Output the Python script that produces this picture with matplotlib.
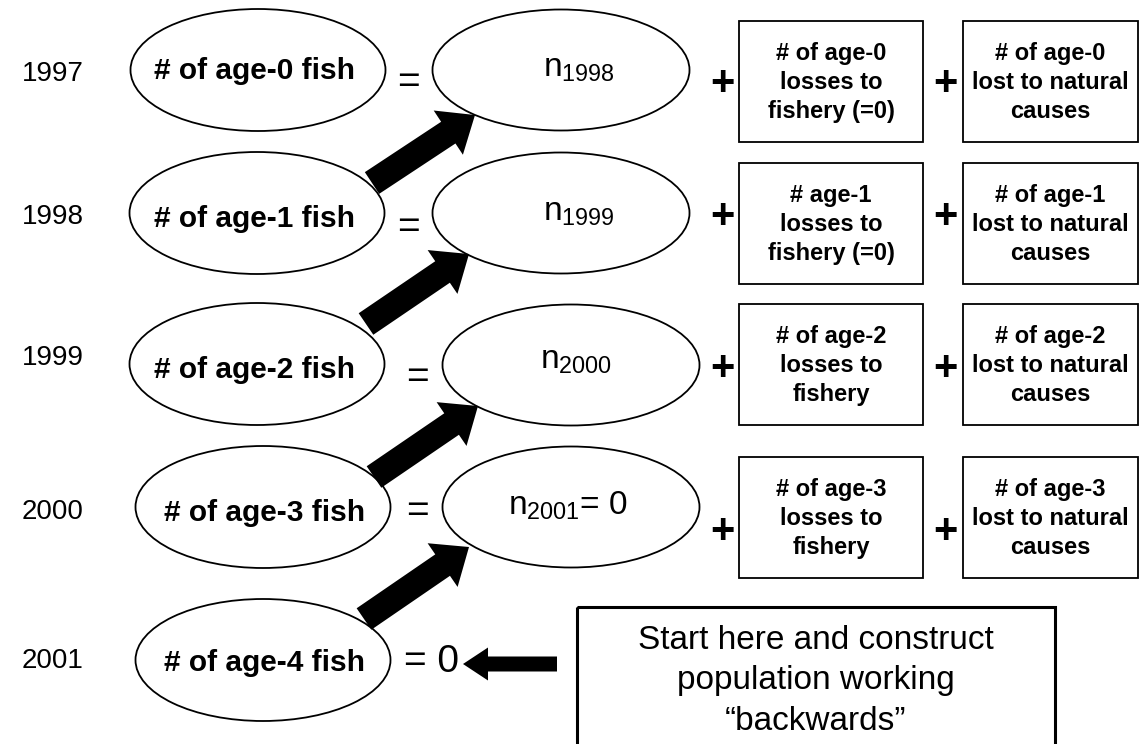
import matplotlib
matplotlib.use("Agg")
import matplotlib.pyplot as plt
from matplotlib.patches import Ellipse, Rectangle, FancyArrow

plt.rcParams['font.family'] = ['Liberation Sans', 'DejaVu Sans']
plt.rcParams['mathtext.fontset'] = 'custom'
plt.rcParams['mathtext.rm'] = 'Liberation Sans'

# ---- content ----
years = ['1997', '1998', '1999', '2000', '2001']
left_labels = ['# of age-0 fish', '# of age-1 fish', '# of age-2 fish',
               '# of age-3 fish', '# of age-4 fish']
mid_labels = [r'$\mathregular{n_{1998}}$', r'$\mathregular{n_{1999}}$',
              r'$\mathregular{n_{2000}}$', r'$\mathregular{n_{2001}}$= 0']
fishery_labels = ['# of age-0\nlosses to\nfishery (=0)',
                  '# age-1\nlosses to\nfishery (=0)',
                  '# of age-2\nlosses to\nfishery',
                  '# of age-3\nlosses to\nfishery']
natural_labels = ['# of age-0\nlost to natural\ncauses',
                  '# of age-1\nlost to natural\ncauses',
                  '# of age-2\nlost to natural\ncauses',
                  '# of age-3\nlost to natural\ncauses']
last_value = '= 0'
note_text = 'Start here and construct\npopulation working\n\u201cbackwards\u201d'

# ---- layout (pixel units) ----
W, H = 1141, 744
year_x = 22
year_y = [74, 217, 358, 512, 661]
left_cx = [258, 257, 257, 263, 263]
left_cy = [70, 213, 364, 507, 660]
left_text_x = [254, 255, 255, 265, 265]
left_text_y = [71, 219, 370, 513, 663]
ell_w, ell_h = 255, 122
mid_cx = [561, 561, 571, 571]
mid_cy = [70, 213, 365, 507]
mid_w, mid_h = 257, 121
mid_text_x = [543, 543, 540, 508]
mid_text_y = [68, 212, 360, 506]
eq_x = [408, 408, 417, 417]
eq_y = [83, 228, 378, 512]
box1_x0, box1_w = 739, 184
box2_x0, box2_w = 963, 175
box_y0 = [21, 163, 304, 457]
box_h = 121
plus_x = [722, 945]
plus_y = [84, 217, 369, 532]
# arrows: tail (x, y) -> tip (x, y)
arrow_tails = [(372, 183), (366, 324), (374, 477), (364, 619)]
arrow_tips = [(475, 115), (469, 254), (478, 406), (469, 547)]

fig = plt.figure(figsize=(W / 100, H / 100), dpi=100)
ax = fig.add_axes([0, 0, 1, 1])
ax.set_xlim(0, W)
ax.set_ylim(H, 0)
ax.axis('off')

for i, yr in enumerate(years):
    ax.text(year_x, year_y[i], yr, fontsize=20, ha='left', va='center')
    ax.add_patch(Ellipse((left_cx[i], left_cy[i]), ell_w, ell_h, fill=False,
                         lw=1.3, ec='black'))
    ax.text(left_text_x[i], left_text_y[i], left_labels[i], fontsize=21.5,
            fontweight='bold', ha='center', va='center')

for i, lab in enumerate(mid_labels):
    ax.add_patch(Ellipse((mid_cx[i], mid_cy[i]), mid_w, mid_h, fill=False,
                         lw=1.3, ec='black'))
    ax.text(mid_text_x[i], mid_text_y[i], lab, fontsize=24, ha='left',
            va='center')
    ax.text(eq_x[i], eq_y[i], '=', fontsize=28, ha='center', va='center')
    ax.add_patch(Rectangle((box1_x0, box_y0[i]), box1_w, box_h, fill=False,
                           lw=1.3, ec='black'))
    ax.add_patch(Rectangle((box2_x0, box_y0[i]), box2_w, box_h, fill=False,
                           lw=1.3, ec='black'))
    ax.text(box1_x0 + box1_w / 2, box_y0[i] + box_h / 2 + 1,
            fishery_labels[i], fontsize=17, fontweight='bold', ha='center',
            va='center', linespacing=1.35)
    ax.text(box2_x0 + box2_w / 2, box_y0[i] + box_h / 2 + 1,
            natural_labels[i], fontsize=17, fontweight='bold', ha='center',
            va='center', linespacing=1.35)
    for px in plus_x:
        ax.text(px, plus_y[i], '+', fontsize=30, fontweight='bold',
                ha='center', va='center')

for (tx, ty), (hx, hy) in zip(arrow_tails, arrow_tips):
    ax.add_patch(FancyArrow(tx, ty, hx - tx, hy - ty, width=26,
                            head_width=53, head_length=32,
                            length_includes_head=True, color='black', lw=0))

# last row: "= 0" and arrow from the note box
ax.text(404, 662, last_value, fontsize=28, ha='left', va='center')
ax.add_patch(FancyArrow(557, 664, 463 - 557, 0, width=15, head_width=33,
                        head_length=25, length_includes_head=True,
                        color='black', lw=0))
ax.add_patch(Rectangle((577, 607), 1055 - 577, 160, fill=False, lw=2.2,
                       ec='black', clip_on=True))
ax.text(816, 681, note_text, fontsize=24, ha='center', va='center',
        linespacing=1.38)

fig.savefig('out.png', dpi=100)
